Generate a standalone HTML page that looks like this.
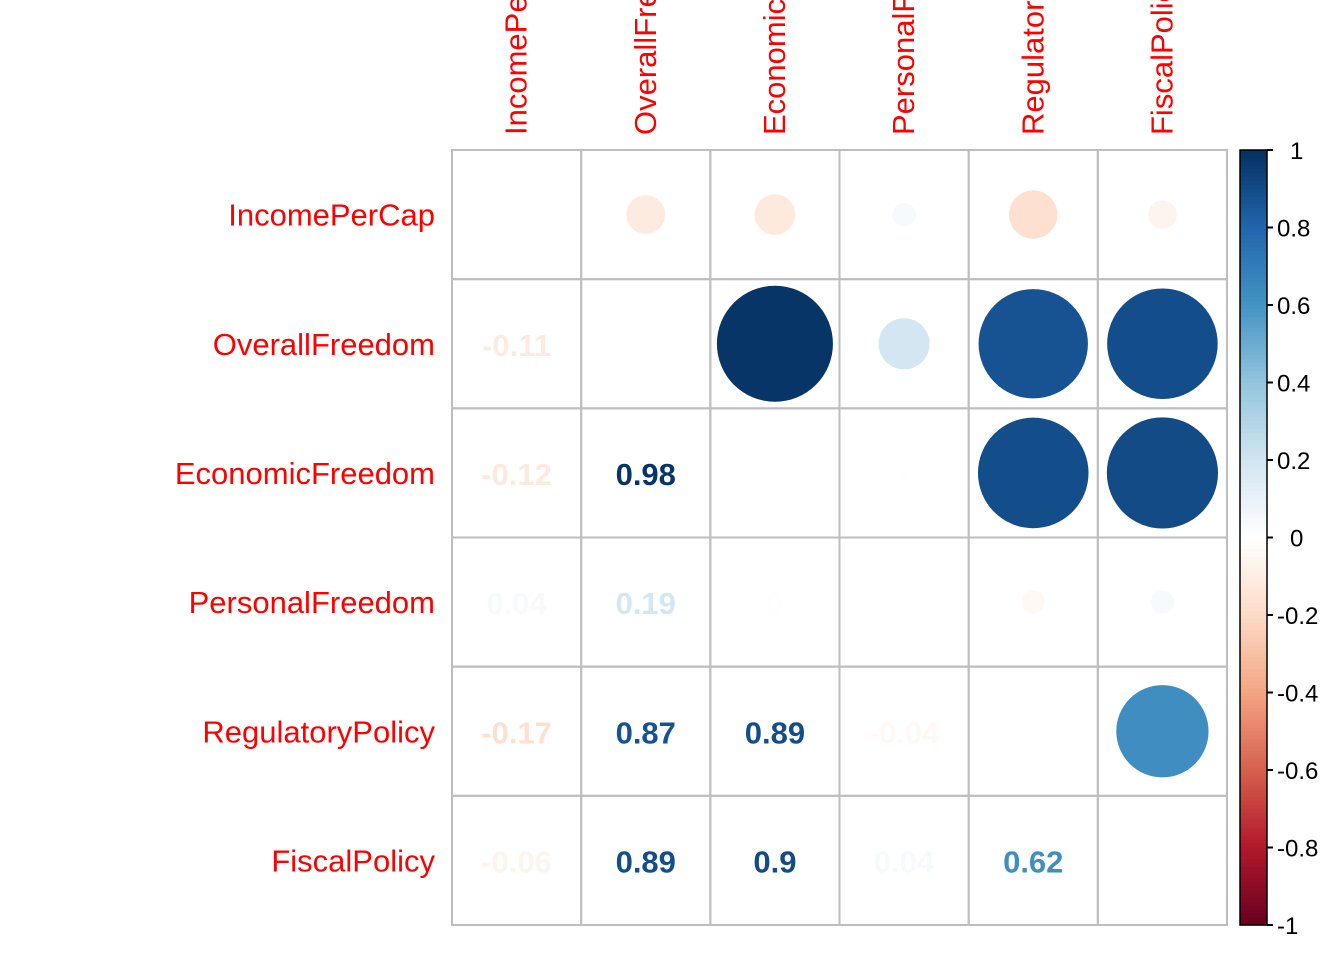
<!DOCTYPE html>
<html><head><meta charset="utf-8"><style>body{margin:0;background:#fff}svg{display:block}</style></head>
<body>
<svg id="chart" width="1344" height="960" xmlns="http://www.w3.org/2000/svg" font-family="Liberation Sans, Arial, sans-serif"></svg>
<script>
const variables = ["IncomePerCap","OverallFreedom","EconomicFreedom","PersonalFreedom","RegulatoryPolicy","FiscalPolicy"];
const corrRow0 = [1, -0.11, -0.12, 0.04, -0.17, -0.06];
const corrRow1 = [-0.11, 1, 0.98, 0.19, 0.87, 0.89];
const corrRow2 = [-0.12, 0.98, 1, -0.003, 0.89, 0.9];
const corrRow3 = [0.04, 0.19, -0.003, 1, -0.04, 0.04];
const corrRow4 = [-0.17, 0.87, 0.89, -0.04, 1, 0.62];
const corrRow5 = [-0.06, 0.89, 0.9, 0.04, 0.62, 1];
const colorbarTicks = [1, 0.8, 0.6, 0.4, 0.2, 0, -0.2, -0.4, -0.6, -0.8, -1];
const corr = [corrRow0, corrRow1, corrRow2, corrRow3, corrRow4, corrRow5];

const svg = document.getElementById('chart');
const NS = 'http://www.w3.org/2000/svg';
const x0 = 452, y0 = 150, W = 775, n = variables.length, cw = W / n;
const pal = ["#67001F","#B2182B","#D6604D","#F4A582","#FDDBC7","#FFFFFF","#D1E5F0","#92C5DE","#4393C3","#2166AC","#053061"];
function hex(h){return [1,3,5].map(i=>parseInt(h.substr(i,2),16));}
function color(v){
  const t = (Math.max(-1,Math.min(1,v)) + 1) / 2 * (pal.length - 1);
  const i = Math.min(Math.floor(t), pal.length - 2), f = t - i;
  const a = hex(pal[i]), b = hex(pal[i+1]);
  return 'rgb(' + a.map((c,k)=>Math.round(c + (b[k]-c)*f)).join(',') + ')';
}
function mk(tag, attrs){const e=document.createElementNS(NS,tag);for(const k in attrs)e.setAttribute(k,attrs[k]);svg.appendChild(e);return e;}
function xc(j){return x0 + cw*(j+0.5);}
function yc(i){return y0 + cw*(i+0.5);}
function fmt(v){if(Math.abs(v)<0.005)return "0";return (Math.round(v*100)/100).toString();}

for (let i=0;i<n;i++) for (let j=0;j<n;j++){
  const r = mk('rect',{x:x0+cw*j,y:y0+cw*i,width:cw,height:cw,fill:'none',stroke:'#bebebe','stroke-width':2});
  
  
}
for (let i=0;i<n;i++) for (let j=0;j<n;j++){
  if (i===j) continue;
  const v = corr[i][j];
  if (j>i){
    const c = mk('circle',{cx:xc(j),cy:yc(i),r:Math.sqrt(Math.abs(v))*58.6,fill:color(v)});
    
    
  } else {
    const t = mk('text',{x:xc(j),y:yc(i)+12,'text-anchor':'middle','font-size':31,'font-weight':'bold',fill:color(v)});
    t.textContent = fmt(v);
    
    
  }
}
variables.forEach((name,i)=>{
  const t = mk('text',{x:435,y:yc(i)+11,'text-anchor':'end','font-size':31,fill:'#ff0000'});
  t.textContent = name;
  
  
});
variables.forEach((name,j)=>{
  const t = mk('text',{x:0,y:0,'text-anchor':'start','font-size':31,fill:'#ff0000',transform:'translate('+(xc(j)+10)+',135) rotate(-90)'});
  t.textContent = name;
  
  
});
const cbx = 1240, cbw = 27, steps = 200;
for (let k=0;k<steps;k++){
  const v = 1 - 2*(k+0.5)/steps;
  const r = mk('rect',{x:cbx,y:y0+W*k/steps,width:cbw,height:W/steps+0.6,fill:color(v)});
  
  
}
const cbo = mk('rect',{x:cbx,y:y0,width:cbw,height:W,fill:'none',stroke:'#000','stroke-width':1.5});


colorbarTicks.forEach(v=>{
  const y = y0 + (1 - v)/2*W;
  const l = mk('line',{x1:cbx+cbw,x2:cbx+cbw+6,y1:y,y2:y,stroke:'#000','stroke-width':2});
  
  
  const t = mk('text',{x:(v===1||v===0)?1290:1277,y:y+9,'font-size':24,fill:'#000'});
  t.textContent = String(v);
  
  
});
</script>
</body></html>
